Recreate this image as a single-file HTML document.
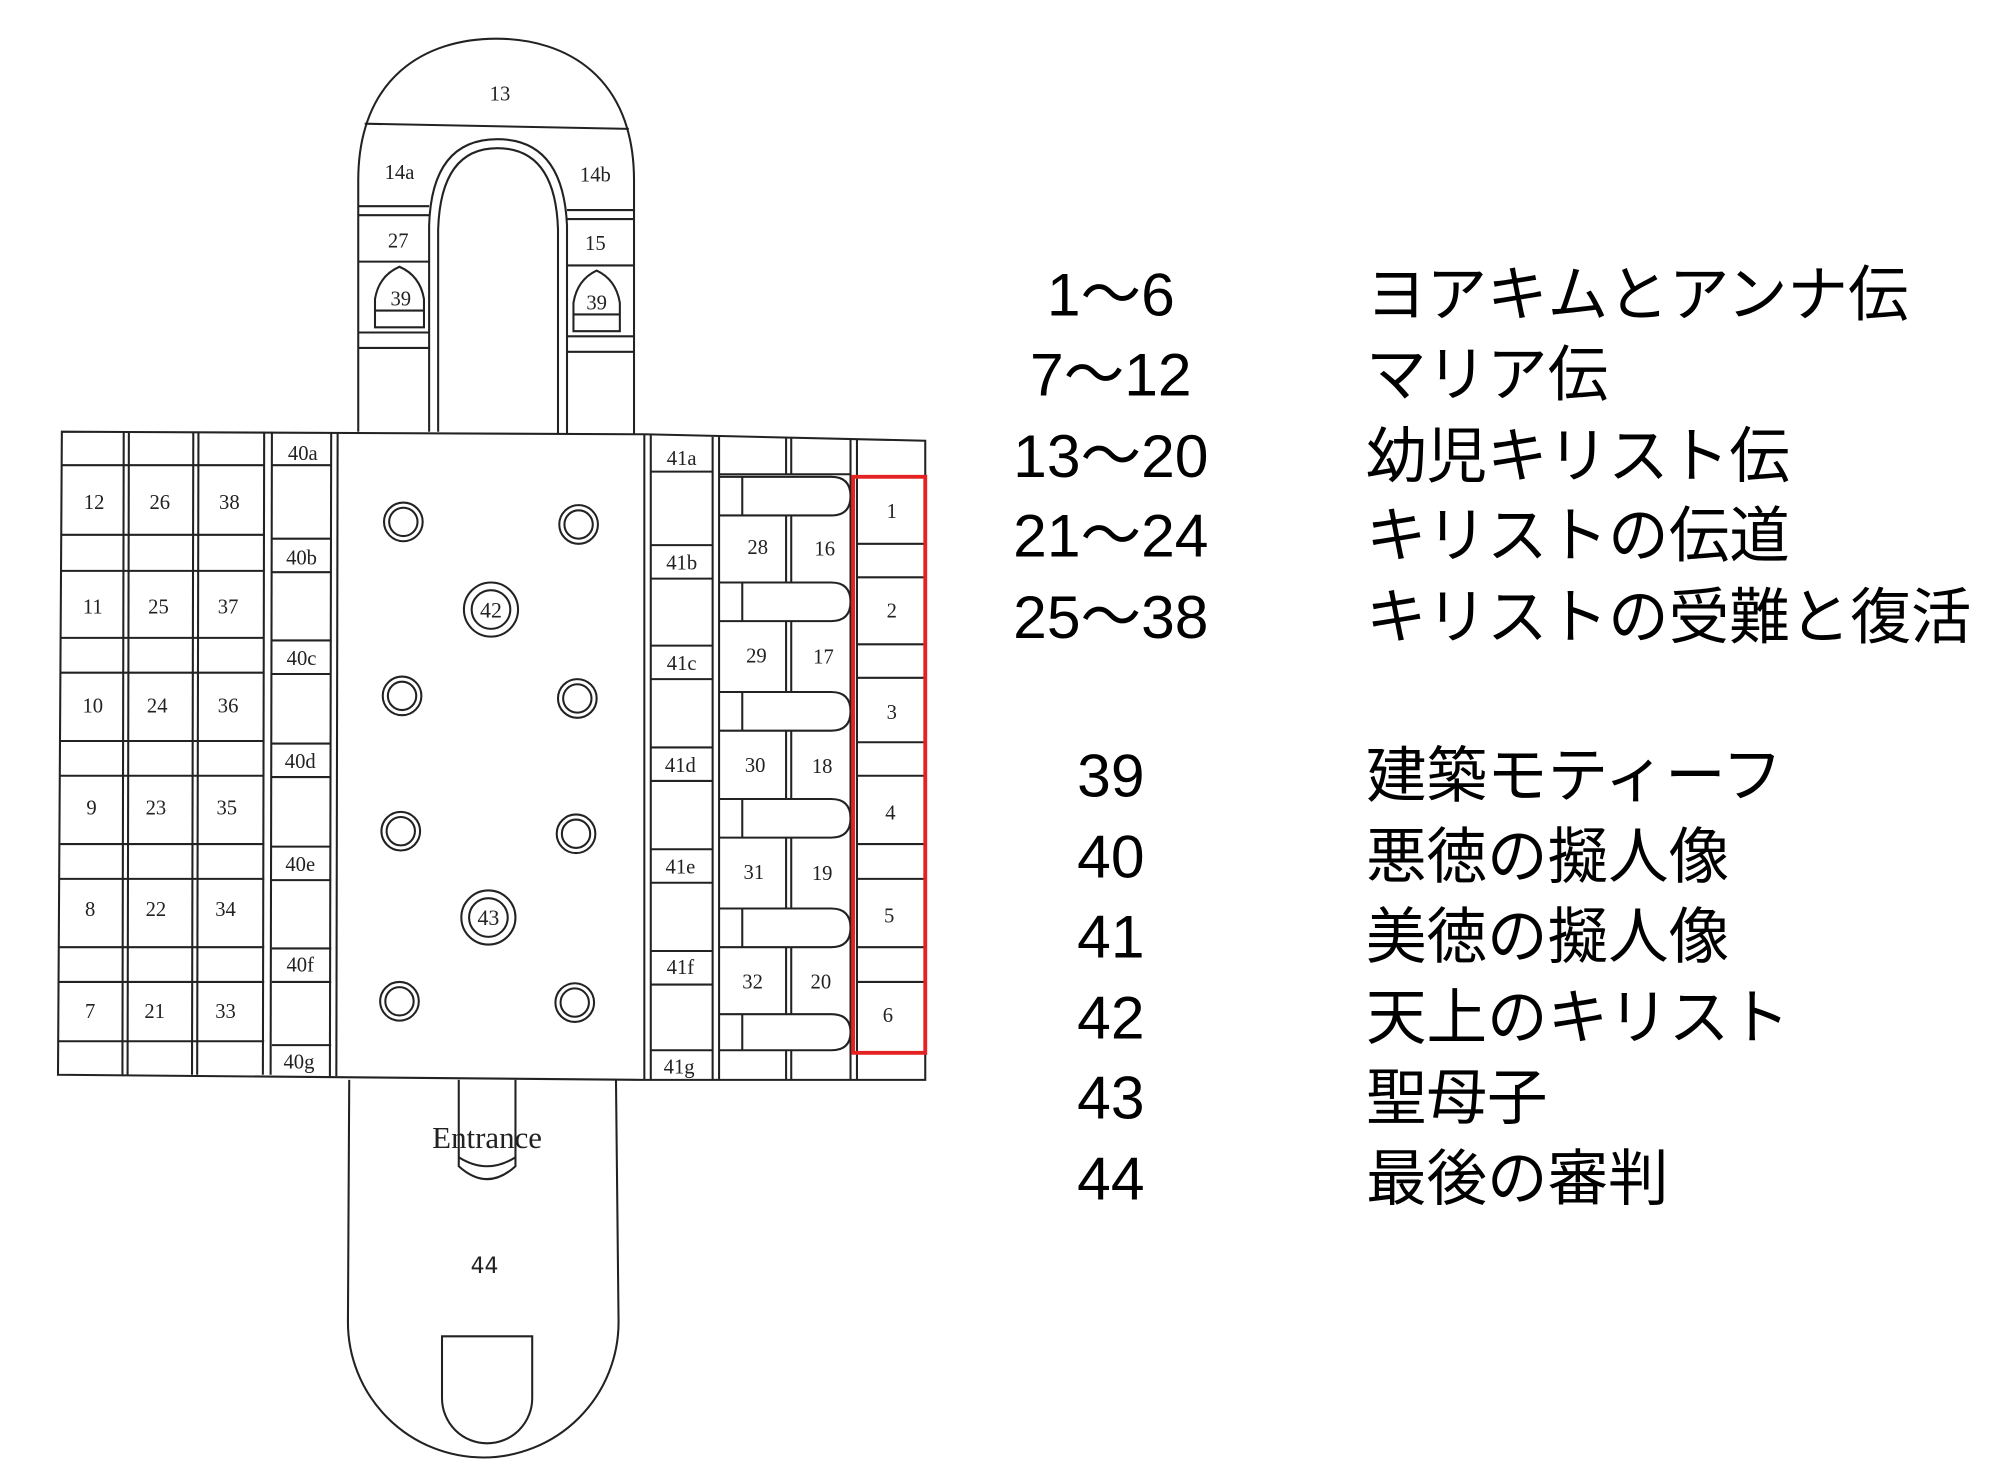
<!DOCTYPE html>
<html><head><meta charset="utf-8"><style>
html,body{margin:0;padding:0;background:#fff;}
svg{display:block;}
.l{fill:none;stroke:#222;stroke-width:1.6;}
.t{font-family:"Liberation Serif",serif;font-size:16px;fill:#222;text-anchor:middle;}
.j{font-family:"Liberation Sans","Noto Sans CJK JP",sans-serif;font-size:47px;fill:#000;}
</style></head><body>
<svg width="2000" height="1475" viewBox="0 0 1552 1144.6" preserveAspectRatio="none" xmlns="http://www.w3.org/2000/svg">
<!-- apse -->
<path class="l" d="M278 335 L278 140 C278 60 330 30 385 30 C440 30 492 60 492 140 L492 337"/>
<line class="l" x1="283" y1="96" x2="488" y2="100"/>
<path class="l" d="M333 335 L333 175 Q335 108 386 108 Q437 108 440 175 L440 336"/>
<path class="l" d="M340 335 L340 178 Q342 115 386 115 Q431 115 433 178 L433 336"/>
<line class="l" x1="278" y1="160" x2="333" y2="160"/><line class="l" x1="278" y1="167" x2="333" y2="167"/>
<line class="l" x1="278" y1="203" x2="333" y2="203"/>
<line class="l" x1="278" y1="258" x2="333" y2="258"/><line class="l" x1="278" y1="270" x2="333" y2="270"/>
<path class="l" d="M291 254 L291 232 Q294 214 310 207 Q326 214 329 232 L329 254 Z"/>
<line class="l" x1="291" y1="241" x2="329" y2="241"/>
<line class="l" x1="440" y1="163" x2="492" y2="163"/><line class="l" x1="440" y1="170" x2="492" y2="170"/>
<line class="l" x1="440" y1="206" x2="492" y2="206"/>
<line class="l" x1="440" y1="261" x2="492" y2="261"/><line class="l" x1="440" y1="273" x2="492" y2="273"/>
<path class="l" d="M445 257 L445 235 Q448 217 463 210 Q478 217 481 235 L481 257 Z"/>
<line class="l" x1="445" y1="244" x2="481" y2="244"/>
<text class="t" x="388" y="78">13</text>
<text class="t" x="310" y="139">14a</text>
<text class="t" x="462" y="141">14b</text>
<text class="t" x="309" y="192">27</text>
<text class="t" x="462" y="194">15</text>
<text class="t" x="311" y="237">39</text>
<text class="t" x="463" y="240">39</text>

<!-- main hall -->
<path class="l" d="M48 335 L500 337 L718 342 L718 838 L500 838 L45 834 Z"/>
<g class="l">
<line x1="96" y1="335" x2="95" y2="834"/><line x1="100" y1="335" x2="99" y2="834"/>
<line x1="150" y1="335" x2="149" y2="834"/><line x1="154" y1="335" x2="153" y2="834"/>
<line x1="205" y1="335" x2="204" y2="834"/><line x1="211" y1="335" x2="210" y2="834"/>
<line x1="257" y1="336" x2="256" y2="835"/><line x1="262" y1="336" x2="261" y2="835"/>
<line x1="500" y1="337" x2="500" y2="838"/><line x1="505" y1="337" x2="505" y2="838"/>
<line x1="553" y1="339" x2="553" y2="838"/><line x1="558" y1="339" x2="558" y2="838"/>
<line x1="660" y1="341" x2="660" y2="838"/><line x1="665" y1="341" x2="665" y2="838"/>
</g>
<g class="l">
<line x1="48" y1="361" x2="205" y2="361"/><line x1="48" y1="415" x2="205" y2="415"/>
<line x1="48" y1="443" x2="205" y2="443"/><line x1="47" y1="495" x2="205" y2="495"/>
<line x1="47" y1="522" x2="205" y2="522"/><line x1="47" y1="575" x2="205" y2="575"/>
<line x1="47" y1="602" x2="205" y2="602"/><line x1="46" y1="655" x2="205" y2="655"/>
<line x1="46" y1="682" x2="205" y2="682"/><line x1="46" y1="735" x2="205" y2="735"/>
<line x1="46" y1="762" x2="205" y2="762"/><line x1="45" y1="808" x2="205" y2="808"/>
</g>
<g class="t">
<text x="73" y="395">12</text><text x="124" y="395">26</text><text x="178" y="395">38</text>
<text x="72" y="476">11</text><text x="123" y="476">25</text><text x="177" y="476">37</text>
<text x="72" y="553">10</text><text x="122" y="553">24</text><text x="177" y="553">36</text>
<text x="71" y="632">9</text><text x="121" y="632">23</text><text x="176" y="632">35</text>
<text x="70" y="711">8</text><text x="121" y="711">22</text><text x="175" y="711">34</text>
<text x="70" y="790">7</text><text x="120" y="790">21</text><text x="175" y="790">33</text>
</g>
<g class="l">
<line x1="211" y1="361" x2="257" y2="361"/>
<line x1="211" y1="418" x2="257" y2="418"/><line x1="211" y1="444" x2="257" y2="444"/>
<line x1="211" y1="497" x2="257" y2="497"/><line x1="211" y1="523" x2="257" y2="523"/>
<line x1="211" y1="577" x2="257" y2="577"/><line x1="211" y1="603" x2="257" y2="603"/>
<line x1="211" y1="657" x2="257" y2="657"/><line x1="211" y1="683" x2="257" y2="683"/>
<line x1="211" y1="736" x2="257" y2="736"/><line x1="211" y1="762" x2="257" y2="762"/>
<line x1="211" y1="811" x2="257" y2="811"/>
<line x1="505" y1="366" x2="553" y2="366"/>
<line x1="505" y1="423" x2="553" y2="423"/><line x1="505" y1="449" x2="553" y2="449"/>
<line x1="505" y1="501" x2="553" y2="501"/><line x1="505" y1="527" x2="553" y2="527"/>
<line x1="505" y1="580" x2="553" y2="580"/><line x1="505" y1="606" x2="553" y2="606"/>
<line x1="505" y1="659" x2="553" y2="659"/><line x1="505" y1="685" x2="553" y2="685"/>
<line x1="505" y1="738" x2="553" y2="738"/><line x1="505" y1="764" x2="553" y2="764"/>
<line x1="505" y1="815" x2="553" y2="815"/>
</g>
<g class="t">
<text x="235" y="357">40a</text><text x="234" y="438">40b</text><text x="234" y="516">40c</text>
<text x="233" y="596">40d</text><text x="233" y="676">40e</text><text x="233" y="754">40f</text><text x="232" y="829">40g</text>
<text x="529" y="361">41a</text><text x="529" y="442">41b</text><text x="529" y="520">41c</text>
<text x="528" y="599">41d</text><text x="528" y="678">41e</text><text x="528" y="756">41f</text><text x="527" y="833">41g</text>
</g>
<g class="l">
<line x1="558" y1="368" x2="660" y2="368"/>
<line x1="610" y1="340" x2="610" y2="368"/><line x1="614" y1="340" x2="614" y2="368"/>
<path d="M558 370 L645 370 Q660 370 660 385 Q660 400 645 400 L558 400"/><line x1="576" y1="370" x2="576" y2="400"/>
<line x1="610" y1="400" x2="610" y2="452"/><line x1="614" y1="400" x2="614" y2="452"/>
<path d="M558 452 L645 452 Q660 452 660 467 Q660 482 645 482 L558 482"/><line x1="576" y1="452" x2="576" y2="482"/>
<line x1="610" y1="482" x2="610" y2="537"/><line x1="614" y1="482" x2="614" y2="537"/>
<path d="M558 537 L645 537 Q660 537 660 552 Q660 567 645 567 L558 567"/><line x1="576" y1="537" x2="576" y2="567"/>
<line x1="610" y1="567" x2="610" y2="620"/><line x1="614" y1="567" x2="614" y2="620"/>
<path d="M558 620 L645 620 Q660 620 660 635 Q660 650 645 650 L558 650"/><line x1="576" y1="620" x2="576" y2="650"/>
<line x1="610" y1="650" x2="610" y2="705"/><line x1="614" y1="650" x2="614" y2="705"/>
<path d="M558 705 L645 705 Q660 705 660 720 Q660 735 645 735 L558 735"/><line x1="576" y1="705" x2="576" y2="735"/>
<line x1="610" y1="735" x2="610" y2="787"/><line x1="614" y1="735" x2="614" y2="787"/>
<path d="M558 787 L645 787 Q660 787 660 801 Q660 815 645 815 L558 815"/><line x1="576" y1="787" x2="576" y2="815"/>
<line x1="610" y1="815" x2="610" y2="838"/><line x1="614" y1="815" x2="614" y2="838"/>
</g>
<g class="t">
<text x="588" y="430">28</text><text x="640" y="431">16</text>
<text x="587" y="514">29</text><text x="639" y="515">17</text>
<text x="586" y="599">30</text><text x="638" y="600">18</text>
<text x="585" y="682">31</text><text x="638" y="683">19</text>
<text x="584" y="767">32</text><text x="637" y="767">20</text>
</g>
<g class="l">
<line x1="665" y1="422" x2="718" y2="422"/><line x1="665" y1="448" x2="718" y2="448"/>
<line x1="665" y1="500" x2="718" y2="500"/><line x1="665" y1="526" x2="718" y2="526"/>
<line x1="665" y1="576" x2="718" y2="576"/><line x1="665" y1="602" x2="718" y2="602"/>
<line x1="665" y1="655" x2="718" y2="655"/><line x1="665" y1="682" x2="718" y2="682"/>
<line x1="665" y1="735" x2="718" y2="735"/><line x1="665" y1="762" x2="718" y2="762"/>
</g>
<g class="t">
<text x="692" y="402">1</text><text x="692" y="479">2</text><text x="692" y="558">3</text>
<text x="691" y="636">4</text><text x="690" y="716">5</text><text x="689" y="793">6</text>
</g>
<rect x="662" y="370" width="56" height="447" fill="none" stroke="#e52222" stroke-width="3"/>
<g class="l">
<circle cx="313" cy="405" r="15"/><circle cx="313" cy="405" r="11"/>
<circle cx="449" cy="407" r="15"/><circle cx="449" cy="407" r="11"/>
<circle cx="312" cy="540" r="15"/><circle cx="312" cy="540" r="11"/>
<circle cx="448" cy="542" r="15"/><circle cx="448" cy="542" r="11"/>
<circle cx="311" cy="645" r="15"/><circle cx="311" cy="645" r="11"/>
<circle cx="447" cy="647" r="15"/><circle cx="447" cy="647" r="11"/>
<circle cx="310" cy="777" r="15"/><circle cx="310" cy="777" r="11"/>
<circle cx="446" cy="778" r="15"/><circle cx="446" cy="778" r="11"/>
<circle cx="381" cy="473" r="21"/><circle cx="381" cy="473" r="15"/>
<circle cx="379" cy="712" r="21"/><circle cx="379" cy="712" r="15"/>
</g>
<text class="t" x="381" y="479" style="font-size:17px">42</text>
<text class="t" x="379" y="718" style="font-size:17px">43</text>
<path class="l" d="M271 838 L270 1026 A105 105 0 0 0 480 1026 L478 838"/>
<path class="l" d="M356 838 L356 905 Q378 925 400 905 L400 838"/>
<path class="l" d="M356 898 Q378 912 400 898"/>
<text class="t" x="378" y="891" style="font-size:24px">Entrance</text>
<text class="t" x="376" y="988" style="font-family:'DejaVu Sans',sans-serif;font-size:17px">44</text>
<path class="l" d="M343 1037 L413 1037 L413 1085 A35 35 0 0 1 343 1085 Z"/>
<g class="j" text-anchor="middle">
<text x="862" y="245">1～6</text>
<text x="862" y="307">7～12</text>
<text x="862" y="370">13～20</text>
<text x="862" y="432">21～24</text>
<text x="862" y="495">25～38</text>
<text x="862" y="618">39</text>
<text x="862" y="681">40</text>
<text x="862" y="743">41</text>
<text x="862" y="806">42</text>
<text x="862" y="868">43</text>
<text x="862" y="931">44</text>
</g>
<g class="j">
<text x="1060" y="245">ヨアキムとアンナ伝</text>
<text x="1060" y="307">マリア伝</text>
<text x="1060" y="370">幼児キリスト伝</text>
<text x="1060" y="432">キリストの伝道</text>
<text x="1060" y="495">キリストの受難と復活</text>
<text x="1060" y="618">建築モティーフ</text>
<text x="1060" y="681">悪徳の擬人像</text>
<text x="1060" y="743">美徳の擬人像</text>
<text x="1060" y="806">天上のキリスト</text>
<text x="1060" y="868">聖母子</text>
<text x="1060" y="931">最後の審判</text>
</g>
</svg>
</body></html>
